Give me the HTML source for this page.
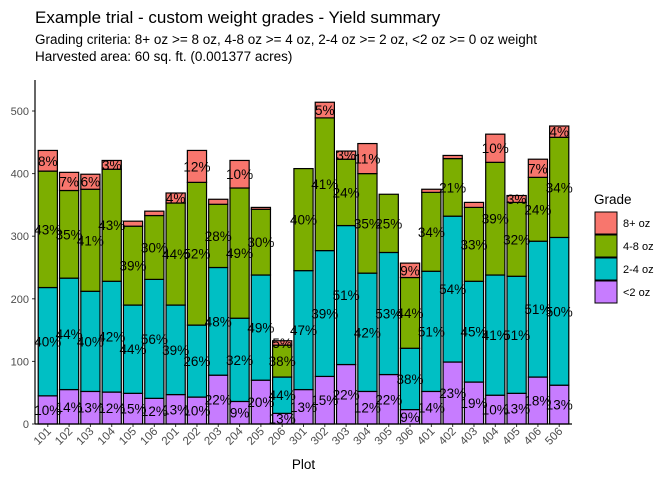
<!DOCTYPE html>
<html><head><meta charset="utf-8">
<style>
body{margin:0;background:#fff;font-family:"Liberation Sans",Arial,sans-serif;}
svg text{font-family:"Liberation Sans",Arial,sans-serif;}
</style></head>
<body>
<svg id="chart" width="672" height="480" viewBox="0 0 672 480" xmlns="http://www.w3.org/2000/svg">
<rect width="672" height="480" fill="#fff"/>
<text x="35" y="23" font-size="17" fill="#000">Example trial - custom weight grades - Yield summary</text>
<text x="35" y="44" font-size="13.5" fill="#000">Grading criteria: 8+ oz &gt;= 8 oz, 4-8 oz &gt;= 4 oz, 2-4 oz &gt;= 2 oz, &lt;2 oz &gt;= 0 oz weight</text>
<text x="35" y="61" font-size="13.5" fill="#000">Harvested area: 60 sq. ft. (0.001377 acres)</text>
<g id="plot"></g>
<g id="legend"></g>
</svg>
<script>
const plots = ["101","102","103","104","105","106","201","202","203","204","205","206","301","302","303","304","305","306","401","402","403","404","405","406","506"];
const under2 = [45,55,52,51,49,41,47,43,78,36,70,17,55,76,95,52,79,23,52,99,67,46,49,75,62];
const g2to4  = [173,178,160,177,141,190,143,115,172,133,168,58,190,201,222,189,195,98,192,233,161,192,187,217,236];
const g4to8  = [186,140,163,179,126,102,163,228,101,208,105,51,163,212,106,159,93,113,126,92,118,180,118,102,160];
const g8plus = [33,29,24,14,8,7,16,51,8,44,3,7,0,25,13,48,0,23,5,5,8,45,11,29,18];
const yTicks = [0,100,200,300,400,500];
const grades = ["8+ oz","4-8 oz","2-4 oz","<2 oz"];
const colors = {"8+ oz":"#F8766D","4-8 oz":"#7CAE00","2-4 oz":"#00BFC4","<2 oz":"#C77CFF"};

const NS="http://www.w3.org/2000/svg";
const plot=document.getElementById('plot');
const x0=35, x1=572, y0=424, pxPerUnit=0.626;
const band=(x1-x0)/(plots.length+0.2);
const xC=i=>x0+band*(0.6+i);
const yS=v=>y0-v*pxPerUnit;
function mk(tag,attrs,parent){const e=document.createElementNS(NS,tag);for(const k in attrs)e.setAttribute(k,attrs[k]);parent.appendChild(e);return e;}

yTicks.forEach(t=>{
  const tx=mk('text',{x:x0-6,y:yS(t)+4,'font-size':11,fill:'#4d4d4d','text-anchor':'end'},plot);
  
  
  tx.textContent=t;
  const tl=mk('line',{x1:x0-3,x2:x0,y1:yS(t),y2:yS(t),stroke:'#333'},plot);
  
  
});

const labels=[];
plots.forEach((p,i)=>{
  const segs=[["<2 oz",under2[i]],["2-4 oz",g2to4[i]],["4-8 oz",g4to8[i]],["8+ oz",g8plus[i]]];
  const total=segs.reduce((a,s)=>a+s[1],0);
  let cum=0;
  const bw=band*0.9;
  segs.forEach(([g,v])=>{
    if(v<=0){return;}
    const r=mk('rect',{x:xC(i)-bw/2,y:yS(cum+v),width:bw,height:v*pxPerUnit,fill:colors[g],stroke:'#000','stroke-width':1.2},plot);
    
    
    const pct=Math.round(v/total*100);
    if(pct>=3) labels.push([xC(i),yS(cum+v/2),pct+'%']);
    cum+=v;
  });
  const tx=mk('text',{'font-size':11.5,fill:'#4d4d4d','text-anchor':'end',transform:`translate(${xC(i)+4},${y0+8}) rotate(-45)`},plot);
  
  
  tx.textContent=p;
  const tl=mk('line',{x1:xC(i),x2:xC(i),y1:y0,y2:y0+3,stroke:'#333'},plot);
  
  
});
labels.forEach(([x,y,t])=>{
  const tx=mk('text',{x:x,y:y+5,'font-size':13.5,fill:'#000','text-anchor':'middle'},plot);
  
  
  tx.textContent=t;
});
const ax=mk('line',{x1:x0,x2:x0,y1:80,y2:y0,stroke:'#000','stroke-width':1.2},plot);


const axx=mk('line',{x1:x0,x2:x1,y1:y0,y2:y0,stroke:'#000','stroke-width':1.2},plot);


const xt=mk('text',{x:(x0+x1)/2,y:469,'font-size':13.5,fill:'#000','text-anchor':'middle'},plot);


xt.textContent='Plot';

const leg=document.getElementById('legend');
const lt=mk('text',{x:594,y:204,'font-size':13.5,fill:'#000'},leg);


lt.textContent='Grade';
grades.forEach((g,k)=>{
  const y=212+k*23;
  const r=mk('rect',{x:595,y:y,width:22,height:22,fill:colors[g],stroke:'#000','stroke-width':1},leg);
  
  
  const t=mk('text',{x:623,y:y+15,'font-size':11,fill:'#000'},leg);
  
  
  t.textContent=g;
});
</script>
</body></html>
